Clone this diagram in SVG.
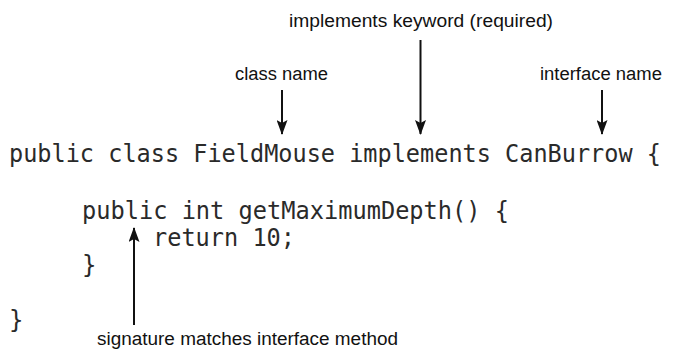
<svg xmlns="http://www.w3.org/2000/svg" width="673" height="350" viewBox="0 0 673 350">
<style>
.code{font-family:"DejaVu Sans Mono","Liberation Mono",monospace;font-size:24px;fill:#2a2a2a}
.lbl{font-family:"Liberation Sans",Arial,sans-serif;font-size:18px;fill:#111}
.arr{stroke:#111;stroke-width:2;fill:none}
</style>
<defs>
<marker id="ah" markerUnits="userSpaceOnUse" viewBox="0 0 15 11" refX="14" refY="5.5" markerWidth="15" markerHeight="11" orient="auto">
<path d="M0,0 L15,5.5 L0,11 L3,5.5 z" fill="#111"/>
</marker>
</defs>
<rect width="673" height="350" fill="#fff"/>
<g id="code">
<text class="code" x="9" y="162" textLength="652" lengthAdjust="spacingAndGlyphs">public class FieldMouse implements CanBurrow {</text>
<text class="code" x="82" y="219" textLength="427" lengthAdjust="spacingAndGlyphs">public int getMaximumDepth() {</text>
<text class="code" x="153" y="246" textLength="142" lengthAdjust="spacingAndGlyphs">return 10;</text>
<text class="code" x="82" y="273">}</text>
<text class="code" x="9" y="328">}</text>
</g>
<g id="label-implements"><text class="lbl" x="289" y="27" textLength="264" lengthAdjust="spacingAndGlyphs">implements keyword (required)</text></g>
<g id="label-class"><text class="lbl" x="235" y="80" textLength="93" lengthAdjust="spacingAndGlyphs">class name</text></g>
<g id="label-interface"><text class="lbl" x="540" y="80" textLength="122" lengthAdjust="spacingAndGlyphs">interface name</text></g>
<g id="label-signature"><text class="lbl" x="97" y="345" textLength="301" lengthAdjust="spacingAndGlyphs">signature matches interface method</text></g>
<g id="connectors">
<line class="arr" x1="282" y1="90" x2="282" y2="134" marker-end="url(#ah)"/>
<line class="arr" x1="420.5" y1="40" x2="420.5" y2="134" marker-end="url(#ah)"/>
<line class="arr" x1="602" y1="90" x2="602" y2="134" marker-end="url(#ah)"/>
<line class="arr" x1="134" y1="325" x2="134" y2="228" marker-end="url(#ah)"/>
</g>
</svg>
